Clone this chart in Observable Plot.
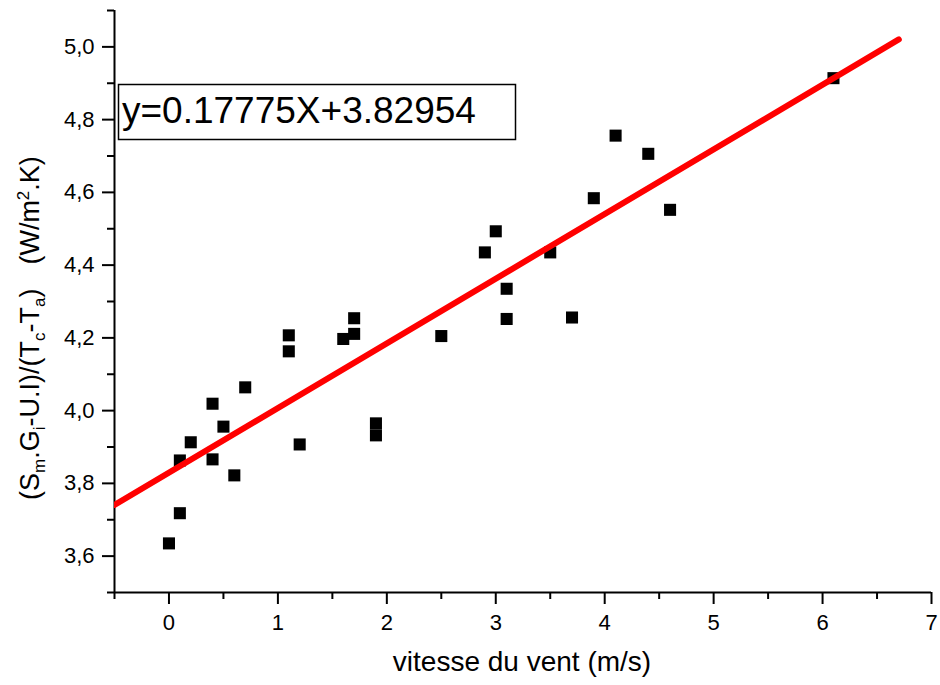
<!DOCTYPE html>
<html>
<head>
<meta charset="utf-8">
<script src="https://cdn.jsdelivr.net/npm/d3@7"></script>
<script src="https://cdn.jsdelivr.net/npm/@observablehq/plot@0.6"></script>
<style>
  html, body { margin: 0; padding: 0; background: #fff; }
  #chart svg { display: block; }
</style>
</head>
<body>
<div id="chart"></div>
<script>
// ---- data ----
const windSpeed = [0, 0.1, 0.1, 0.2, 0.4, 0.4, 0.5, 0.6, 0.7, 1.1, 1.1, 1.2, 1.6, 1.7, 1.7, 1.9, 1.9, 2.5, 2.9, 3.0, 3.1, 3.1, 3.5, 3.7, 3.9, 4.1, 4.4, 4.6, 6.1];
const heatLoss = [3.635, 3.718, 3.863, 3.913, 4.019, 3.866, 3.956, 3.822, 4.064, 4.207, 4.163, 3.907, 4.197, 4.211, 4.254, 3.965, 3.932, 4.205, 4.435, 4.493, 4.335, 4.252, 4.435, 4.256, 4.584, 4.756, 4.706, 4.552, 4.914];
const fitSlope = 0.17775;
const fitIntercept = 3.82954;
const fitRange = [-0.5, 6.7];
const xMajorTicks = [0, 1, 2, 3, 4, 5, 6, 7];
const xMinorTicks = [-0.5, 0.5, 1.5, 2.5, 3.5, 4.5, 5.5, 6.5];
const yMajorTicks = [3.6, 3.8, 4.0, 4.2, 4.4, 4.6, 4.8, 5.0];
const yMinorTicks = [3.5, 3.7, 3.9, 4.1, 4.3, 4.5, 4.7, 4.9, 5.1];
const equationLabel = "y=0.17775X+3.82954";
const xTitle = "vitesse du vent (m/s)";

const points = windSpeed.map((x, i) => ({x, y: heatLoss[i]}));
const fitLine = fitRange.map(x => ({x, y: fitSlope * x + fitIntercept}));

const FONT = "'Liberation Sans', Arial, sans-serif";

const plot = Plot.plot({
  width: 940,
  height: 685,
  marginLeft: 114,
  marginRight: 9,
  marginTop: 10,
  marginBottom: 93,
  style: {fontFamily: FONT, fontSize: "22px", background: "#fff", color: "#000"},
  x: {domain: [-0.5, 7], label: null},
  y: {domain: [3.5, 5.1], label: null},
  marks: [
    Plot.axisX(xMinorTicks, {tickSize: 7, strokeWidth: 2, tickFormat: () => "", label: null}),
    Plot.axisX(xMajorTicks, {tickSize: 12, tickPadding: 10, strokeWidth: 2, fontSize: 22, label: null}),
    Plot.axisY(yMinorTicks, {tickSize: 7, strokeWidth: 2, tickFormat: () => "", label: null}),
    Plot.axisY(yMajorTicks, {tickSize: 12, tickPadding: 8, strokeWidth: 2, fontSize: 22, label: null,
      tickFormat: d => d.toFixed(1).replace(".", ",")}),
    Plot.ruleX([-0.5], {stroke: "#000", strokeWidth: 2}),
    Plot.ruleY([3.5], {stroke: "#000", strokeWidth: 2}),
    Plot.dot(points, {x: "x", y: "y", symbol: "square", r: 6.8, fill: "#000", stroke: "none"}),
    Plot.line(fitLine, {x: "x", y: "y", stroke: "#ff0000", strokeWidth: 6, strokeLinecap: "round", clip: true})
  ]
});

const svg = d3.select(plot);

// equation box
svg.append("rect")
  .attr("x", 118.5).attr("y", 84.5).attr("width", 397).attr("height", 55)
  .attr("fill", "#fff").attr("stroke", "#000").attr("stroke-width", 1.5);
svg.append("text")
  .attr("x", 122).attr("y", 123)
  .attr("text-anchor", "start")
  .attr("font-family", FONT).attr("font-size", 37).attr("fill", "#000")
  .text(equationLabel);

// x title
svg.append("text")
  .attr("x", 522).attr("y", 671)
  .attr("text-anchor", "middle")
  .attr("font-family", FONT).attr("font-size", 28).attr("fill", "#000")
  .text(xTitle);

// y title with sub/superscripts
const yt = svg.append("text")
  .attr("transform", "translate(39,500) rotate(-90)")
  .attr("text-anchor", "start")
  .attr("font-family", FONT).attr("font-size", 27).attr("fill", "#000");
const parts = [
  ["(S", 0, 27], ["m", -6, 17], [".G", 0, 27], ["i", -6, 17], ["-U.I)/(T", 0, 27],
  ["c", -6, 17], ["-T", 0, 27], ["a", -6, 17], [")", 0, 27]
];
parts.forEach(([t, shift, fs]) => {
  yt.append("tspan").attr("font-size", fs).attr("baseline-shift", shift).text(t);
});
yt.append("tspan").attr("dx", 24).attr("font-size", 27).text("(W/m");
yt.append("tspan").attr("font-size", 17).attr("baseline-shift", 10).text("2");
yt.append("tspan").attr("font-size", 27).text(".K)");

document.getElementById("chart").appendChild(plot);
</script>
</body>
</html>
